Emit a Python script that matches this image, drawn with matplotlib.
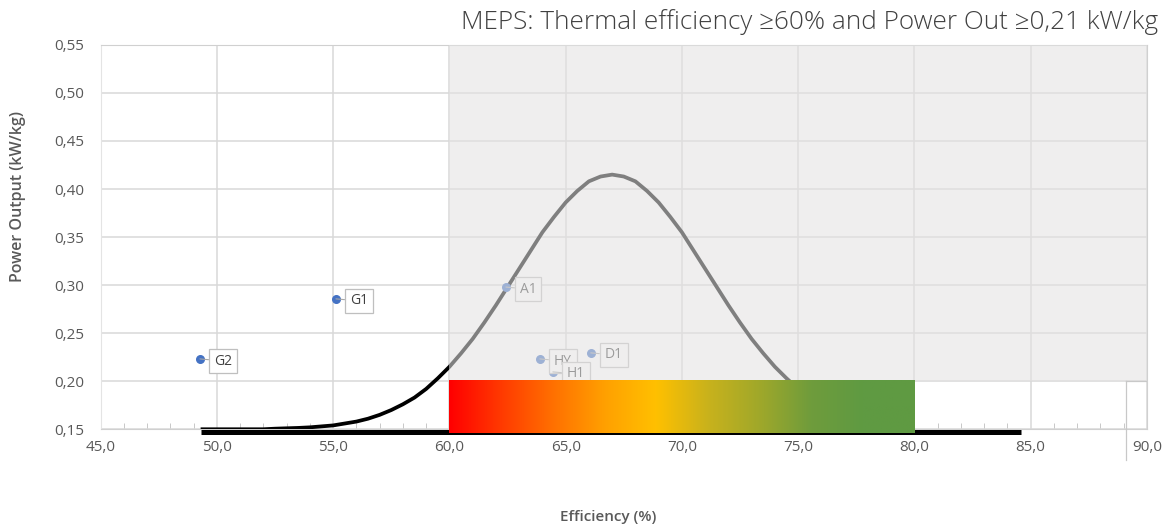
import numpy as np
import matplotlib
import matplotlib.pyplot as plt
from matplotlib.colors import LinearSegmentedColormap
from matplotlib.patches import Rectangle

matplotlib.rcParams['font.family'] = ['Open Sans', 'DejaVu Sans']

# curve (efficiency %, kW/kg)
curve_x = [49.3, 51, 52, 52.5, 53, 53.5, 54, 54.5, 55, 55.5, 56, 56.5, 57, 57.5, 58, 58.5,
           59, 59.5, 60, 60.5, 61, 61.5, 62, 62.5, 63, 63.5, 64, 64.5, 65, 65.5, 66, 66.5,
           67, 67.5, 68, 68.5, 69, 69.5, 70, 70.5, 71, 71.5, 72, 72.5, 73, 73.5, 74, 74.5,
           75, 75.5, 76, 77, 78, 79, 80]
curve_y = [0.150, 0.150, 0.150, 0.1506, 0.151, 0.1514, 0.152, 0.153, 0.154, 0.156, 0.158,
           0.161, 0.165, 0.170, 0.176, 0.183, 0.192, 0.203, 0.215, 0.229, 0.244, 0.261,
           0.279, 0.298, 0.317, 0.336, 0.355, 0.371, 0.386, 0.398, 0.408, 0.413, 0.415,
           0.413, 0.408, 0.398, 0.386, 0.371, 0.355, 0.336, 0.317, 0.298, 0.279, 0.261,
           0.244, 0.229, 0.215, 0.203, 0.192, 0.183, 0.176, 0.165, 0.158, 0.154, 0.152]

base_x = [49.3, 84.6]
base_y = [0.1467, 0.1467]

names = ['G1', 'G2', 'A1', 'HY', 'H1', 'D1']
eff = [55.12, 49.27, 62.43, 63.89, 64.45, 66.08]
power = [0.2857, 0.2232, 0.298, 0.2232, 0.2097, 0.2295]

grad_colors = ['#ff0000', '#ff3a00', '#ff7000', '#ffa000', '#ffc000',
               '#c9b21c', '#a0a82a', '#6f9c3c', '#5f9a42', '#5f9a42']

fig = plt.figure(figsize=(11.69, 5.28), dpi=100)
ax = fig.add_axes([0.0861, 0.187, 0.8950, 0.728])

ax.set_xlim(45, 90)
ax.set_ylim(0.15, 0.55)
ax.set_xticks(np.arange(45, 90.1, 5))
ax.set_yticks(np.arange(0.15, 0.551, 0.05))
ax.set_xticks(np.arange(45, 90.1, 1), minor=True)
ax.set_xticklabels([f'{v:.1f}'.replace('.', ',') for v in np.arange(45, 90.1, 5)])
ax.set_yticklabels([f'{v:.2f}'.replace('.', ',') for v in np.arange(0.15, 0.551, 0.05)])
ax.tick_params(axis='both', which='major', length=0, labelsize=11, labelcolor='#595959')
ax.tick_params(axis='x', which='major', pad=8)
ax.tick_params(axis='y', which='major', pad=12)
ax.tick_params(axis='x', which='minor', direction='in', length=4, color='#bfbfbf')
ax.tick_params(axis='y', which='minor', length=0)
ax.grid(True, which='major', color='#d9d9d9', lw=1.1, zorder=0)
ax.set_axisbelow(True)
for s in ['top', 'right', 'bottom']:
    ax.spines[s].set_color('#d0d0d0')
ax.spines['left'].set_color('#e4e4e4')

# curve and points
ax.plot(curve_x, curve_y, color='black', lw=2.7, zorder=3, solid_capstyle='butt',
        solid_joinstyle='round')
ax.plot(base_x, base_y, color='black', lw=3.6, zorder=3, clip_on=False, solid_capstyle='butt')
ax.scatter(eff, power, s=30, color='#4472c4', zorder=4)
for n, x, y in zip(names, eff, power):
    ax.annotate(n, (x, y), xytext=(10, -1.5), textcoords='offset points', fontsize=10,
                color='#404040', va='center', ha='left', zorder=5,
                bbox=dict(boxstyle='square,pad=0.35', fc='white', ec='#bfbfbf', lw=0.9),
                arrowprops=dict(arrowstyle='-', color='#a6a6a6', lw=0.8,
                                shrinkA=0, shrinkB=0))

# translucent area above the MEPS limits
ax.add_patch(Rectangle((60, 0.20), 30, 0.35, fc='#e3e2e2', ec='none', alpha=0.565, zorder=6))

# gradient bar
cmap = LinearSegmentedColormap.from_list('meps', grad_colors)
ax.imshow(np.linspace(0, 1, 256).reshape(1, -1), cmap=cmap, aspect='auto',
          extent=[60, 80, 0.1465, 0.2012], zorder=7, clip_on=False)
ax.set_xlim(45, 90)
ax.set_ylim(0.15, 0.55)

# small framed box at the right end
ax.plot([89.08, 89.08], [0.118, 0.20], color='#c8c8c8', lw=0.9, clip_on=False, zorder=8)
ax.plot([89.08, 90], [0.20, 0.20], color='#c8c8c8', lw=0.9, zorder=8)

fig.text(0.9906, 0.958, 'MEPS: Thermal efficiency \u226560% and Power Out \u22650,21 kW/kg',
         ha='right', va='center', fontsize=18.8, color='#404040', fontweight='light')
fig.text(0.0154, 0.627, 'Power Output (kW/kg)', rotation=90, ha='center', va='center',
         fontsize=11.5, color='#595959', fontweight='semibold')
fig.text(0.52, 0.021, 'Efficiency (%)', ha='center', va='center', fontsize=11,
         color='#595959', fontweight='semibold')

fig.savefig('out.png', dpi=100)
